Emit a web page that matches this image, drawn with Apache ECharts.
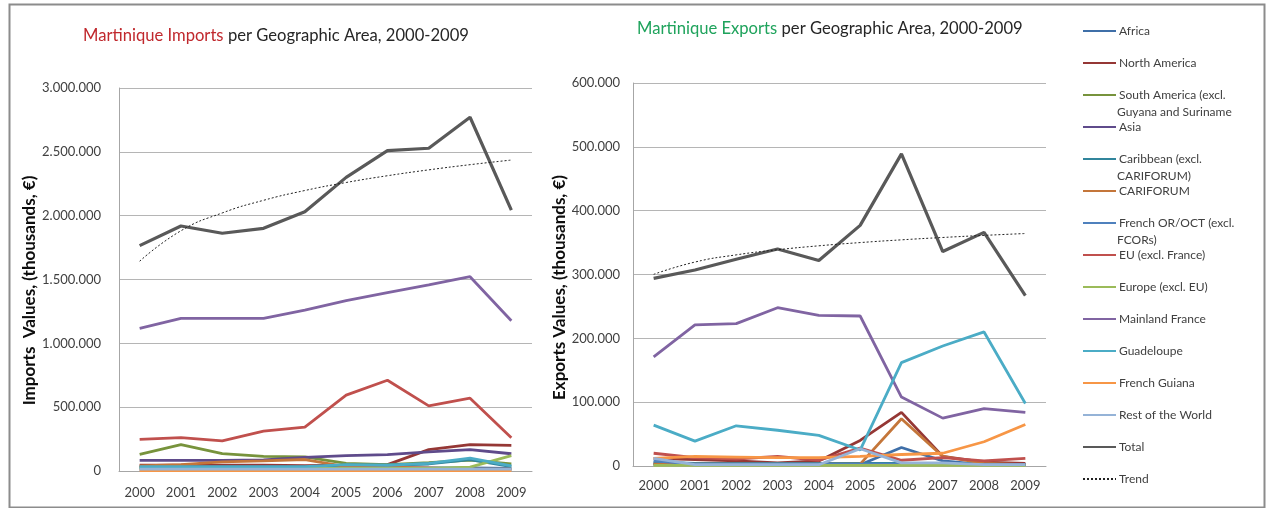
<!DOCTYPE html>
<html>
<head>
<meta charset="utf-8">
<script src="https://cdn.jsdelivr.net/npm/echarts@6/dist/echarts.min.js"></script>
<style>
  html, body { margin: 0; padding: 0; background: #fff; }
  #chart { width: 1269px; height: 508px; }
</style>
</head>
<body>
<div id="chart"></div>
<script>
// Years on both category axes
const years = ['2000', '2001', '2002', '2003', '2004', '2005', '2006', '2007', '2008', '2009'];

// Region names (legend order)
const regions = [
  'Africa', 'North America', 'South America (excl. Guyana and Suriname', 'Asia',
  'Caribbean (excl. CARIFORUM)', 'CARIFORUM', 'French OR/OCT (excl. FCORs)',
  'EU (excl. France)', 'Europe (excl. EU)', 'Mainland France', 'Guadeloupe',
  'French Guiana', 'Rest of the World', 'Total'
];

// Legend text split over two lines where the label wraps
const legendLines = {
  'South America (excl. Guyana and Suriname': ['South America (excl.', 'Guyana and Suriname'],
  'Caribbean (excl. CARIFORUM)': ['Caribbean (excl.', 'CARIFORUM)'],
  'French OR/OCT (excl. FCORs)': ['French OR/OCT (excl.', 'FCORs)']
};

// Imports, thousands of euros
const impAfrica        = [25000, 25000, 25000, 25000, 25000, 25000, 25000, 25000, 25000, 20000];
const impNorthAmerica  = [45000, 45000, 45000, 45000, 42000, 45000, 50000, 167000, 206000, 201000];
const impSouthAmerica  = [130000, 206000, 136000, 115000, 110000, 60000, 50000, 65000, 85000, 55000];
const impAsia          = [84000, 84000, 84000, 86000, 107000, 120000, 128000, 150000, 167000, 135000];
const impCaribbean     = [30000, 30000, 30000, 30000, 30000, 45000, 45000, 55000, 90000, 35000];
const impCariforum     = [40000, 50000, 72000, 80000, 90000, 35000, 30000, 25000, 15000, 15000];
const impFrenchOR      = [10000, 10000, 10000, 10000, 10000, 10000, 10000, 10000, 10000, 10000];
const impEU            = [248000, 261000, 236000, 312000, 344000, 594000, 711000, 510000, 570000, 261000];
const impEurope        = [20000, 20000, 20000, 20000, 20000, 20000, 20000, 20000, 30000, 120000];
const impMainland      = [1118000, 1196000, 1196000, 1196000, 1261000, 1334000, 1397000, 1457000, 1522000, 1177000];
const impGuadeloupe    = [35000, 35000, 35000, 35000, 35000, 50000, 45000, 60000, 100000, 40000];
const impFrenchGuiana  = [3000, 3000, 3000, 3000, 3000, 3000, 3000, 3000, 3000, 3000];
const impRest          = [15000, 15000, 15000, 15000, 15000, 15000, 15000, 15000, 15000, 15000];
const impTotal         = [1765000, 1919000, 1862000, 1901000, 2031000, 2300000, 2509000, 2528000, 2771000, 2044000];

// Exports, thousands of euros
const expAfrica        = [2000, 2000, 2000, 2000, 2000, 2000, 29000, 8000, 2000, 2000];
const expNorthAmerica  = [12000, 10000, 8000, 5000, 8000, 40000, 84000, 15000, 6000, 4000];
const expSouthAmerica  = [3000, 2000, 2000, 2000, 2000, 2000, 2000, 2000, 2000, 2000];
const expAsia          = [4000, 2000, 2000, 2000, 2000, 2000, 2000, 3000, 2000, 2000];
const expCaribbean     = [6000, 4000, 4000, 4000, 4000, 4000, 4000, 4000, 3000, 2000];
const expCariforum     = [3000, 3000, 3000, 3000, 3000, 3000, 74000, 15000, 4000, 2000];
const expFrenchOR      = [8000, 3000, 3000, 3000, 3000, 3000, 3000, 3000, 2000, 2000];
const expEU            = [20000, 13000, 11000, 15000, 9000, 28000, 9000, 13000, 8000, 12000];
const expEurope        = [1000, 1000, 1000, 1000, 1000, 1000, 1000, 1000, 1000, 1000];
const expMainland      = [171000, 221000, 223000, 248000, 236000, 235000, 108000, 75000, 90000, 84000];
const expGuadeloupe    = [64000, 39000, 63000, 56000, 48000, 25000, 162000, 188000, 210000, 98000];
const expFrenchGuiana  = [12000, 15000, 14000, 13000, 13000, 15000, 18000, 20000, 38000, 65000];
const expRest          = [12000, 2000, 2000, 2000, 2000, 27000, 5000, 5000, 2000, 2000];
const expTotal         = [294000, 307000, 324000, 340000, 322000, 377000, 489000, 336000, 366000, 267000];

// Y axis tick settings
const impMax = 3000000, impStep = 500000;
const expMax = 600000, expStep = 100000;

const importsByRegion = [impAfrica, impNorthAmerica, impSouthAmerica, impAsia, impCaribbean, impCariforum,
  impFrenchOR, impEU, impEurope, impMainland, impGuadeloupe, impFrenchGuiana, impRest, impTotal];
const exportsByRegion = [expAfrica, expNorthAmerica, expSouthAmerica, expAsia, expCaribbean, expCariforum,
  expFrenchOR, expEU, expEurope, expMainland, expGuadeloupe, expFrenchGuiana, expRest, expTotal];

const colors = ['#3f6fa8', '#953735', '#77933c', '#5f4b8b', '#31859c', '#c4763a', '#4f81bd',
  '#c0504d', '#9bbb59', '#8064a2', '#4bacc6', '#f79646', '#95b3d7', '#595959'];

// Logarithmic least-squares trend (y = a + b ln x, x = 1..n) of a series
function logTrend(values) {
  const n = values.length;
  const lx = values.map((_, i) => Math.log(i + 1));
  const mx = lx.reduce((s, v) => s + v, 0) / n;
  const my = values.reduce((s, v) => s + v, 0) / n;
  let sxy = 0, sxx = 0;
  for (let i = 0; i < n; i++) { sxy += (lx[i] - mx) * (values[i] - my); sxx += (lx[i] - mx) ** 2; }
  const b = sxy / sxx, a = my - b * mx;
  return lx.map(v => a + b * v);
}

const fmtDots = v => String(Math.round(v)).replace(/\B(?=(\d{3})+(?!\d))/g, '.');
const FONT = 'Lato, "Open Sans", sans-serif';
const labelColor = '#404040';

const series = [];
[importsByRegion, exportsByRegion].forEach((group, gi) => {
  group.forEach((data, i) => {
    series.push({
      name: regions[i], type: 'line', xAxisIndex: gi, yAxisIndex: gi,
      data: data, symbol: 'none', smooth: false,
      lineStyle: { width: i === 13 ? 3.2 : 2.8, color: colors[i] },
      itemStyle: { color: colors[i] },
      z: 2 + (i === 13 ? 1 : 0)
    });
  });
  series.push({
    name: 'Trend', type: 'line', xAxisIndex: gi, yAxisIndex: gi,
    data: logTrend(group[13]), symbol: 'none', smooth: true,
    lineStyle: { width: 1, color: '#222', type: [2, 2] },
    itemStyle: { color: '#222' }, z: 4
  });
});

const legendNames = regions.concat(['Trend']);

// Legend layout: first item centre and spacing between items
const legendFirstY = 31, legendStep = 32;
const extraLegendText = [];
legendNames.forEach((n, idx) => {
  if (legendLines[n]) {
    extraLegendText.push({
      type: 'text', left: 1117, top: legendFirstY + idx * legendStep + 11,
      style: { text: legendLines[n][1], font: '12px ' + FONT, fill: labelColor }
    });
  }
});

const axisCommon = {
  axisLine: { show: true, lineStyle: { color: '#a6a6a6', width: 1 } },
  axisTick: { show: false },
  splitLine: { show: true, lineStyle: { color: '#b5b5b5', width: 1 } }
};

const chart = echarts.init(document.getElementById('chart'), null, { renderer: 'canvas' });
chart.setOption({
  backgroundColor: '#fff',
  animation: false,
  textStyle: { fontFamily: FONT },
  title: [
    {
      left: 78, top: 22,
      text: '{r|Martinique Imports} {k|per Geographic Area, 2000-2009}',
      textStyle: { rich: {
        r: { fontSize: 16.6, fontWeight: 'normal', color: '#c0282d', fontFamily: FONT },
        k: { fontSize: 16.6, fontWeight: 'normal', color: '#262626', fontFamily: FONT }
      } }
    },
    {
      left: 632, top: 15,
      text: '{g|Martinique Exports} {k|per Geographic Area, 2000-2009}',
      textStyle: { rich: {
        g: { fontSize: 16.6, fontWeight: 'normal', color: '#1fa35c', fontFamily: FONT },
        k: { fontSize: 16.6, fontWeight: 'normal', color: '#262626', fontFamily: FONT }
      } }
    }
  ],
  legend: {
    orient: 'vertical', left: 1077, top: legendFirstY - 12,
    itemWidth: 33, itemHeight: 14, itemGap: 18,
    data: legendNames,
    formatter: n => legendLines[n] ? legendLines[n][0] : n,
    itemStyle: { color: 'rgba(0,0,0,0)', borderColor: 'rgba(0,0,0,0)', borderWidth: 0 },
    textStyle: { fontSize: 12, lineHeight: 14, color: labelColor, fontFamily: FONT, padding: [0, 0, 0, -2] }
  },
  grid: [
    { left: 119, right: 737, top: 88, bottom: 37 },
    { left: 633, right: 223, top: 83, bottom: 42 }
  ],
  xAxis: [0, 1].map(gi => Object.assign({}, axisCommon, {
    type: 'category', gridIndex: gi, data: years, boundaryGap: true,
    splitLine: { show: false },
    axisLabel: { color: labelColor, fontSize: 13, margin: gi === 0 ? 15 : 13, fontFamily: FONT }
  })),
  yAxis: [
    Object.assign({}, axisCommon, {
      type: 'value', gridIndex: 0, min: 0, max: impMax, interval: impStep,
      axisLabel: { color: labelColor, fontSize: 13, margin: 18, formatter: fmtDots, fontFamily: FONT },
      name: 'Imports  Values, (thousands, €)', nameLocation: 'middle', nameGap: 72,
      nameTextStyle: { fontSize: 17, fontWeight: 'bold', color: '#0d0d0d', fontFamily: FONT, padding: [0, 22, 0, 0] }
    }),
    Object.assign({}, axisCommon, {
      type: 'value', gridIndex: 1, min: 0, max: expMax, interval: expStep,
      axisLabel: { color: labelColor, fontSize: 13, margin: 13, formatter: fmtDots, fontFamily: FONT },
      name: 'Exports Values, (thousands, €)', nameLocation: 'middle', nameGap: 60,
      nameTextStyle: { fontSize: 17, fontWeight: 'bold', color: '#0d0d0d', fontFamily: FONT, padding: [0, 26, 0, 0] }
    })
  ],
  graphic: [
    { type: 'rect', left: 7, top: 2, shape: { x: 0, y: 0, width: 1255, height: 503 },
      style: { fill: 'none', stroke: '#8c8c8c', lineWidth: 2 }, silent: true }
  ].concat(extraLegendText),
  series: series
});
</script>
</body>
</html>
